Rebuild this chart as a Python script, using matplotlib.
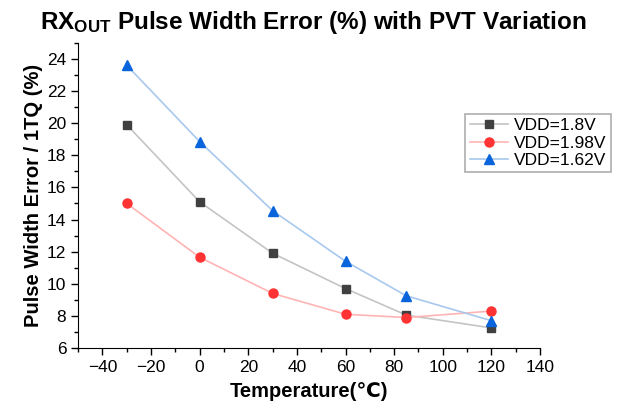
import matplotlib
matplotlib.use("Agg")
import matplotlib.pyplot as plt
from matplotlib.ticker import MultipleLocator

plt.rcParams['font.family'] = ['Liberation Sans', 'DejaVu Sans']
plt.rcParams['mathtext.fontset'] = 'custom'
plt.rcParams['mathtext.rm'] = 'Liberation Sans'
plt.rcParams['mathtext.bf'] = 'Liberation Sans:bold'

# temperatures (C)
temps = [-30, 0, 30, 60, 85, 120]
# pulse width error (%) per supply
vdd_18 = [19.9, 15.1, 11.9, 9.7, 8.05, 7.25]
vdd_198 = [15.0, 11.65, 9.4, 8.1, 7.9, 8.3]
vdd_162 = [23.6, 18.85, 14.55, 11.4, 9.25, 7.7]
labels = ["VDD=1.8V", "VDD=1.98V", "VDD=1.62V"]

fig = plt.figure(figsize=(6.2, 4.08), dpi=100)
ax = fig.add_axes([0.126, 0.147, 0.745, 0.748])

ax.plot(temps, vdd_18, color='#c4c4c4', lw=1.2, marker='s', ms=6,
        mfc='#404040', mec='#404040', label=labels[0])
ax.plot(temps, vdd_198, color='#ffb4b4', lw=1.2, marker='o', ms=6.5,
        mfc='#ff3333', mec='#ff3333', label=labels[1])
ax.plot(temps, vdd_162, color='#a8c8ee', lw=1.2, marker='^', ms=7,
        mfc='#0a64dc', mec='#0a64dc', label=labels[2])

ax.set_xlim(-50, 140)
ax.set_ylim(6, 25)
ax.xaxis.set_minor_locator(MultipleLocator(10))
ax.yaxis.set_minor_locator(MultipleLocator(1))
ax.set_xticks(range(-40, 141, 20))
ax.set_yticks(range(6, 25, 2))

for s in ['top', 'right']:
    ax.spines[s].set_visible(False)
ax.tick_params(which='major', direction='out', length=5, width=1, labelsize=12.5)
ax.tick_params(which='minor', direction='out', length=3, width=1)

ax.set_xlabel("Temperature(℃)", fontsize=14.5, fontweight='bold', labelpad=5)
ax.set_ylabel("Pulse Width Error / 1TQ (%)", fontsize=14.5, fontweight='bold', labelpad=3)

fig.text(0.505, 0.945, r"$\mathbf{RX_{OUT}}$ Pulse Width Error (%) with PVT Variation",
         ha='center', va='center', fontsize=17.5, fontweight='bold')

leg = ax.legend(loc='upper left', bbox_to_anchor=(0.838, 0.767), fontsize=12.5,
                frameon=True, fancybox=False, edgecolor='#999999',
                handlelength=2.2, borderpad=0.25, labelspacing=0.12,
                handletextpad=0.35, borderaxespad=0)
leg.get_frame().set_linewidth(1.2)

fig.savefig("out.png", dpi=100)
